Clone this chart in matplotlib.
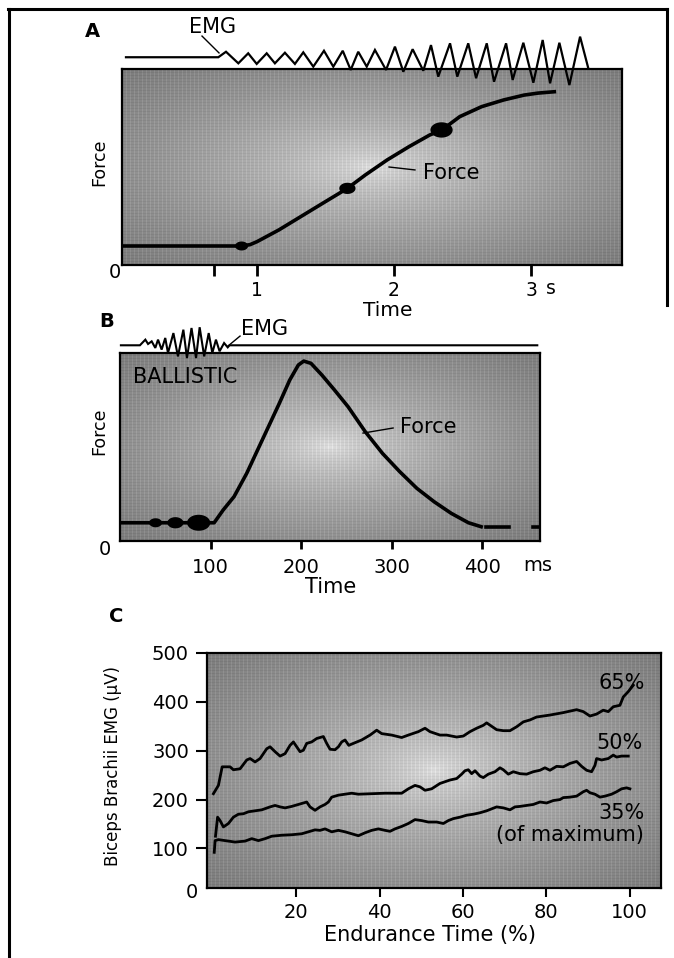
import numpy as np
import matplotlib.pyplot as plt
from matplotlib.path import Path
from matplotlib.lines import Line2D

plt.rcParams['font.family'] = ['DejaVu Sans']

# ---------------- panel A: slow ramp contraction ----------------
a_force_t = [0.015, 0.89, 0.95, 1.00, 1.16, 1.32, 1.48, 1.66, 1.79, 1.95, 2.11, 2.26,
             2.35, 2.48, 2.64, 2.80, 2.95, 3.05, 3.17]
a_force_v = [0.097, 0.097, 0.104, 0.119, 0.179, 0.247, 0.315, 0.391, 0.459, 0.536, 0.604,
             0.663, 0.689, 0.757, 0.808, 0.842, 0.867, 0.877, 0.884]
a_dot_t = [0.888, 1.660, 2.347]
a_dot_v = [0.097, 0.391, 0.689]
a_dot_w = [9.4, 11.7, 16.0]
a_emg_t = [0.044, 0.718, 0.774, 0.864, 0.936, 0.998, 1.071, 1.131, 1.204, 1.277, 1.338,
           1.411, 1.489, 1.557, 1.626, 1.684, 1.739, 1.801, 1.861, 1.942, 2.007, 2.068,
           2.136, 2.214, 2.270, 2.323, 2.409, 2.462, 2.542, 2.599, 2.677, 2.730, 2.818,
           2.866, 2.944, 3.017, 3.085, 3.139, 3.207, 3.280, 3.358, 3.418]
a_emg_v = [1.060, 1.060, 1.088, 1.029, 1.080, 1.026, 1.080, 1.029, 1.083, 1.026, 1.085,
           1.012, 1.093, 1.012, 1.093, 0.995, 1.088, 1.012, 1.097, 0.995, 1.114, 0.986,
           1.101, 0.991, 1.122, 0.961, 1.131, 0.961, 1.131, 0.953, 1.131, 0.935, 1.131,
           0.944, 1.134, 0.930, 1.148, 0.927, 1.134, 0.918, 1.165, 1.004]
a_ticks = [0.686, 1, 2, 3]
a_ticklabels = ['', '1', '2', '3']

# ---------------- panel B: ballistic contraction ----------------
b_force_t = [0, 104, 114, 126, 140, 152, 164, 176, 187.5, 197, 203, 211, 223, 237, 252,
             271, 290, 309, 328, 347, 366, 385, 399]
b_force_v = [0.097, 0.097, 0.165, 0.236, 0.360, 0.484, 0.608, 0.732, 0.856, 0.936, 0.957,
             0.945, 0.883, 0.803, 0.714, 0.581, 0.466, 0.369, 0.280, 0.209, 0.147, 0.097,
             0.076]
b_tail_t = [404, 430, np.nan, 456, 462]
b_tail_v = [0.076, 0.076, np.nan, 0.076, 0.076]
b_dot_t = [39.3, 61.2, 86.9]
b_dot_v = [0.097, 0.097, 0.097]
b_dot_w = [9.4, 11.7, 16.7]
b_emg_t = [1, 22, 28, 31, 35, 39, 42, 46, 50, 53, 59, 64, 70, 74, 79, 84, 88, 93, 98,
           102, 106, 110, 115, 119, 121, 461]
b_emg_v = [1.041, 1.041, 1.071, 1.048, 1.062, 1.027, 1.071, 1.018, 1.080, 1.000, 1.106,
           0.982, 1.124, 0.973, 1.133, 0.973, 1.137, 0.982, 1.106, 1.000, 1.071, 1.009,
           1.053, 1.030, 1.041, 1.041]
b_ticks = [100, 200, 300, 400]

# ---------------- panel C: EMG during sustained contractions ----------------
c65_x = [0.1, 1.3, 2.2, 4.1, 4.9, 6.5, 8.1, 8.9, 10.1, 11.3, 12.9, 13.7, 14.9, 16.1, 17.3,
         18.5, 19.3, 20.1, 20.9, 21.7, 22.5, 23.7, 24.9, 26.5, 27.3, 28.1, 29.3, 30.1,
         30.9, 31.7, 32.6, 33.7, 35.7, 37.7, 39.3, 40.5, 42.9, 45.3, 46.9, 49.3, 50.9,
         52.1, 54.5, 56.1, 58.5, 60.1, 61.7, 63.3, 64.9, 65.7, 66.9, 68.1, 69.7, 71.3,
         72.9, 74.5, 76.1, 77.7, 80.9, 84.1, 87.3, 88.9, 90.5, 92.1, 93.7, 94.9, 96.1,
         97.7, 98.5, 99.7, 100.9]
c65_y = [212, 229, 267, 267, 261, 263, 281, 284, 277, 284, 304, 308, 298, 289, 294, 311,
         318, 308, 298, 301, 315, 318, 325, 329, 315, 303, 302, 308, 318, 322, 311, 315,
         322, 332, 342, 335, 332, 327, 332, 339, 346, 339, 332, 332, 328, 330, 339, 346,
         352, 357, 350, 343, 341, 341, 349, 359, 363, 369, 373, 378, 384, 380, 371, 375,
         383, 380, 390, 393, 410, 421, 434]
c50_x = [0.6, 1.1, 1.7, 2.5, 3.7, 4.9, 6.1, 7.3, 8.5, 10.1, 11.7, 13.7, 14.9, 16.1, 17.3,
         18.9, 20.5, 21.7, 22.5, 23.3, 24.5, 25.7, 26.9, 27.7, 28.5, 30.1, 31.7, 33.3,
         34.9, 38.1, 41.3, 45.3, 46.9, 48.5, 49.7, 50.9, 52.5, 54.5, 56.9, 58.5, 59.7,
         60.5, 61.3, 62.1, 62.9, 64.1, 64.9, 66.1, 67.7, 68.9, 69.7, 70.9, 72.1, 73.7,
         75.3, 76.9, 78.5, 79.7, 80.9, 82.5, 84.1, 85.7, 87.3, 88.5, 89.7, 90.9, 91.7,
         92.1, 93.3, 94.9, 96.1, 96.9, 98.1, 99.7]
c50_y = [125, 164, 157, 144, 151, 164, 170, 171, 175, 177, 179, 185, 188, 185, 183, 186,
         190, 193, 195, 185, 178, 185, 190, 195, 205, 209, 211, 213, 211, 212, 213, 213,
         222, 229, 226, 219, 222, 233, 240, 243, 252, 259, 261, 253, 259, 248, 245, 252,
         257, 265, 261, 252, 257, 253, 252, 257, 260, 265, 260, 268, 267, 274, 278, 268,
         260, 257, 270, 284, 281, 284, 291, 287, 289, 289]
c35_x = [0.3, 0.5, 1.3, 2.9, 5.3, 7.7, 9.3, 10.9, 12.5, 14.1, 16.5, 18.9, 21.3, 22.9, 24.5,
         25.7, 26.9, 28.5, 30.1, 31.7, 33.3, 34.9, 36.5, 38.1, 39.7, 41.3, 42.5, 43.7,
         45.3, 46.9, 48.5, 50.1, 51.7, 53.7, 55.3, 56.5, 57.7, 59.3, 60.9, 62.5, 64.1,
         65.7, 66.9, 68.1, 69.7, 71.3, 72.5, 73.7, 75.3, 76.9, 78.5, 80.1, 81.7, 83.3,
         84.1, 85.7, 87.3, 88.9, 89.7, 90.5, 91.7, 92.9, 94.1, 95.7, 96.9, 98.1, 99.3,
         100.1]
c35_y = [92, 116, 118, 116, 113, 115, 120, 116, 120, 125, 127, 128, 130, 134, 138, 137,
         140, 134, 137, 134, 130, 126, 132, 137, 140, 137, 135, 140, 145, 151, 159, 157,
         154, 154, 151, 157, 161, 164, 168, 170, 173, 177, 181, 185, 183, 179, 185, 186,
         188, 190, 195, 193, 198, 200, 204, 205, 207, 216, 219, 214, 211, 205, 207, 211,
         216, 222, 224, 222]
c_xticks = [20, 40, 60, 80, 100]
c_yticks = [100, 200, 300, 400, 500]

W, H = 674, 958
fig = plt.figure(figsize=(W / 100, H / 100), dpi=100)


def box(l, t, r, b):
    return [l / W, 1 - b / H, (r - l) / W, (b - t) / H]


def shade(ax, nx, ny):
    # grey screen with a bright centre and a faint pin-stripe
    yy, xx = np.mgrid[-1:1:ny * 1j, -1:1:nx * 1j]
    r = np.sqrt(xx ** 2 + yy ** 2)
    v = 0.88 - 0.32 * r ** 0.6
    v[:, ::4] += 0.05
    v[::3, :] -= 0.03
    ax.imshow(v, cmap='gray', vmin=0, vmax=1, extent=(0, 1, 0, 1), transform=ax.transAxes,
              aspect='auto', interpolation='nearest', zorder=0)


def frame(ax):
    for s in ax.spines.values():
        s.set_linewidth(1.6)
        s.set_zorder(4)


th = np.linspace(0, 2 * np.pi, 60)
dot = Path(np.column_stack([np.cos(th), np.sin(th) / 1.45]))

lab = dict(fontsize=15, color='black')

# ---- A ----
axA = fig.add_axes(box(122, 69, 622, 265))
shade(axA, 500, 196)
axA.plot(a_force_t, a_force_v, color='black', lw=2.6, zorder=3)
axA.scatter(a_dot_t, a_dot_v, s=np.array(a_dot_w) ** 2, marker=dot, color='black',
            linewidths=0, zorder=4)
axA.plot(a_emg_t, a_emg_v, color='black', lw=1.6, clip_on=False, zorder=5,
         solid_joinstyle='miter')
axA.plot([0.599, 0.723], [1.168, 1.082], color='black', lw=1.0, clip_on=False)
axA.text(0.679, 1.214, 'EMG', ha='center', va='center', **lab)
axA.plot([1.964, 2.153], [0.500, 0.485], color='black', lw=1.0, zorder=3)
axA.text(2.212, 0.469, 'Force', ha='left', va='center', **lab)
axA.set_xlim(0.015, 3.664)
axA.set_ylim(0, 1)
axA.set_xticks(a_ticks, a_ticklabels)
axA.set_yticks([])
axA.tick_params(axis='x', direction='out', length=8, width=2, pad=3.5, labelsize=13.5)
axA.text(3.146, -0.12, 's', ha='center', va='center', fontsize=13.5)
axA.text(-0.015, -0.036, '0', transform=axA.transAxes, ha='center', va='center', fontsize=14)
axA.text(0.531, -0.232, 'Time', transform=axA.transAxes, ha='center', va='center',
         fontsize=14.5)
axA.text(-0.046, 0.523, 'Force', transform=axA.transAxes, rotation=90, ha='center',
         va='center', fontsize=12.5)
axA.text(-0.06, 1.189, 'A', transform=axA.transAxes, ha='center', va='center',
         fontsize=14, fontweight='bold')
frame(axA)

# ---- B ----
axB = fig.add_axes(box(120, 353, 540, 541))
shade(axB, 420, 188)
axB.plot(b_force_t, b_force_v, color='black', lw=2.6, zorder=3)
axB.plot(b_tail_t, b_tail_v, color='black', lw=2.6, zorder=3)
axB.scatter(b_dot_t, b_dot_v, s=np.array(b_dot_w) ** 2, marker=dot, color='black',
            linewidths=0, zorder=4)
axB.plot(b_emg_t, b_emg_v, color='black', lw=1.5, clip_on=False, zorder=5,
         solid_joinstyle='miter')
axB.plot([119.3, 132.6], [1.037, 1.090], color='black', lw=1.0, clip_on=False)
axB.text(133.7, 1.128, 'EMG', ha='left', va='center', **lab)
axB.text(14.4, 0.874, 'BALLISTIC', ha='left', va='center', **lab)
axB.plot([268.5, 301.7], [0.574, 0.601], color='black', lw=1.0, zorder=3)
axB.text(309.4, 0.606, 'Force', ha='left', va='center', **lab)
axB.set_xlim(0, 464)
axB.set_ylim(0, 1)
axB.set_xticks(b_ticks)
axB.set_yticks([])
axB.tick_params(axis='x', direction='out', length=6, width=2, pad=6, labelsize=14)
axB.text(462, -0.128, 'ms', ha='center', va='center', fontsize=14)
axB.text(-0.037, -0.043, '0', transform=axB.transAxes, ha='center', va='center', fontsize=14)
axB.text(0.501, -0.245, 'Time', transform=axB.transAxes, ha='center', va='center', **lab)
axB.text(-0.05, 0.585, 'Force', transform=axB.transAxes, rotation=90, ha='center',
         va='center', fontsize=12.5)
axB.text(-0.031, 1.165, 'B', transform=axB.transAxes, ha='center', va='center',
         fontsize=14, fontweight='bold')
frame(axB)

# ---- C ----
axC = fig.add_axes(box(207, 653, 661, 888))
shade(axC, 454, 235)
for xs, ys in [(c65_x, c65_y), (c50_x, c50_y), (c35_x, c35_y)]:
    axC.plot(xs, ys, color='black', lw=2.0, zorder=3)
axC.set_xlim(-1.44, 107.56)
axC.set_ylim(19, 500)
axC.set_xticks(c_xticks)
axC.set_yticks(c_yticks)
axC.tick_params(axis='x', direction='out', length=6.5, width=1.5, pad=4, labelsize=14)
axC.tick_params(axis='y', direction='out', length=8, width=1.5, pad=5, labelsize=14)
axC.text(0.913, 0.874, '65%', transform=axC.transAxes, ha='center', va='center', **lab)
axC.text(0.909, 0.617, '50%', transform=axC.transAxes, ha='center', va='center', **lab)
axC.text(0.913, 0.319, '35%', transform=axC.transAxes, ha='center', va='center', **lab)
axC.text(0.800, 0.226, '(of maximum)', transform=axC.transAxes, ha='center', va='center', **lab)
axC.text(-0.033, -0.021, '0', transform=axC.transAxes, ha='center', va='center', fontsize=14)
axC.text(0.491, -0.198, 'Endurance Time (%)', transform=axC.transAxes, ha='center',
         va='center', **lab)
axC.text(-0.207, 0.521, 'Biceps Brachii EMG (μV)', transform=axC.transAxes, rotation=90,
         ha='center', va='center', fontsize=12)
axC.text(-0.2, 1.157, 'C', transform=axC.transAxes, ha='center', va='center',
         fontsize=14, fontweight='bold')
frame(axC)

# outer frame of the figure (open at the lower right)
fig.add_artist(Line2D([8 / W, 667 / W], [1 - 9 / H, 1 - 9 / H], color='black', lw=2.2))
fig.add_artist(Line2D([9 / W, 9 / W], [1 - 9 / H, 0], color='black', lw=2.2))
fig.add_artist(Line2D([667 / W, 667 / W], [1 - 9 / H, 1 - 305 / H], color='black', lw=2.2))

fig.savefig('out.png', dpi=100, facecolor='white')
